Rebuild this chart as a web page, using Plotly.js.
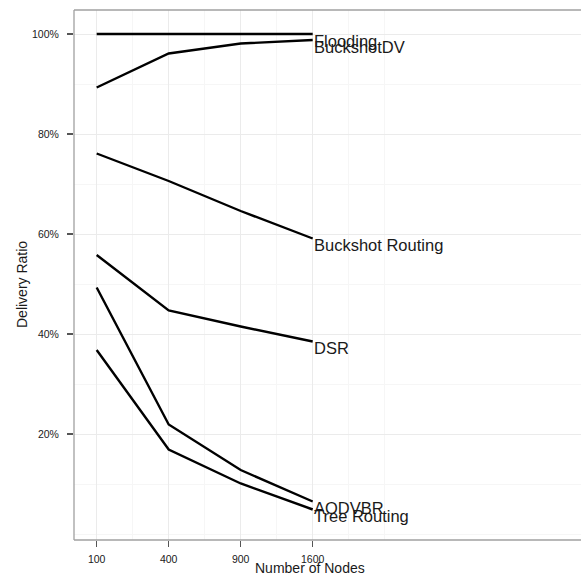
<!DOCTYPE html>
<html>
<head>
<meta charset="utf-8">
<script src="https://cdn.plot.ly/plotly-3.0.1.min.js"></script>
<style>
  html, body { margin: 0; padding: 0; background: #fff; }
  #chart { width: 581px; height: 576px; }
</style>
</head>
<body>
<div id="chart"></div>
<script>
// Delivery ratio (%) by network size for each routing protocol
const nodes = [100, 400, 900, 1600];
const protocols = ["Flooding", "BuckshotDV", "Buckshot Routing", "DSR", "AODVBR", "Tree Routing"];
const flooding = [100, 100, 100, 100];
const buckshotDV = [89.3, 96.1, 98.1, 98.8];
const buckshotRouting = [76.1, 70.6, 64.6, 59.1];
const dsr = [55.8, 44.7, 41.5, 38.5];
const aodvbr = [49.3, 21.9, 12.8, 6.5];
const treeRouting = [36.8, 16.9, 10.1, 4.9];
const yTicks = [20, 40, 60, 80, 100];
const yTickLabels = ["20%", "40%", "60%", "80%", "100%"];

const seriesValues = [flooding, buckshotDV, buckshotRouting, dsr, aodvbr, treeRouting];

// x axis uses a square-root scale
const sx = nodes.map(n => Math.sqrt(n));

const FONT = "Liberation Sans, Arial, Helvetica, sans-serif";

const traces = seriesValues.map((vals, i) => ({
  type: "scatter",
  mode: "lines",
  name: protocols[i],
  x: sx,
  y: vals,
  line: { color: "#000000", width: 2.4 },
  hoverinfo: "skip"
}));

// direct labels at the last point of each line
const last = sx.length - 1;
const labelAnnotations = seriesValues.map((vals, i) => ({
  x: sx[last],
  y: vals[last],
  xref: "x",
  yref: "y",
  text: protocols[i],
  showarrow: false,
  xanchor: "left",
  yanchor: "top",
  borderpad: 0,
  yshift: 3.5,
  font: { family: FONT, size: 16.5, color: "#1a1a1a" }
}));

const step = sx[1] - sx[0];
const xMinor = [sx[0] + step / 2, sx[1] + step / 2, sx[2] + step / 2, sx[3] + step / 2, sx[3] + step];

const layout = {
  width: 581,
  height: 576,
  margin: { l: 74, r: 0, t: 10, b: 36 },
  paper_bgcolor: "#ffffff",
  plot_bgcolor: "#ffffff",
  showlegend: false,
  font: { family: FONT, color: "#1a1a1a" },
  xaxis: {
    range: [6.85, 77.26],
    tickmode: "array",
    tickvals: sx,
    ticktext: nodes.map(String),
    ticks: "outside",
    ticklen: 6,
    tickwidth: 1.3,
    tickcolor: "#555555",
    ticklabelstandoff: 3,
    tickfont: { family: FONT, size: 10.5, color: "#1a1a1a" },
    showgrid: true,
    gridcolor: "#ebebeb",
    gridwidth: 1,
    minor: { tickmode: "array", tickvals: xMinor, showgrid: true, gridcolor: "#f6f6f6", gridwidth: 1, ticks: "" },
    zeroline: false,
    showline: false
  },
  yaxis: {
    range: [-1.2, 104.8],
    tickmode: "array",
    tickvals: yTicks,
    ticktext: yTickLabels,
    ticks: "outside",
    ticklen: 6,
    tickwidth: 1.3,
    tickcolor: "#555555",
    ticklabelstandoff: 6,
    tickfont: { family: FONT, size: 10.5, color: "#1a1a1a" },
    showgrid: true,
    gridcolor: "#ebebeb",
    gridwidth: 1,
    minor: { tickmode: "array", tickvals: [0, 10, 30, 50, 70, 90], showgrid: true, gridcolor: "#f6f6f6", gridwidth: 1, ticks: "" },
    zeroline: false,
    showline: false
  },
  shapes: [
    // panel border: top, left, bottom
    { type: "line", xref: "paper", yref: "paper", x0: 0, x1: 1, y0: 1, y1: 1, line: { color: "#a0a0a0", width: 1.3 } },
    { type: "line", xref: "paper", yref: "paper", x0: 0, x1: 0, y0: 0, y1: 1, line: { color: "#a0a0a0", width: 1.3 } },
    { type: "line", xref: "paper", yref: "paper", x0: 0, x1: 1, y0: 0, y1: 0, line: { color: "#a0a0a0", width: 1.3 } }
  ],
  annotations: labelAnnotations.concat([
    {
      text: "Number of Nodes",
      xref: "paper", yref: "paper",
      x: (310 - 74) / 507, y: (540 - 568) / 530,
      xanchor: "center", yanchor: "middle",
      showarrow: false,
      font: { family: FONT, size: 14, color: "#1a1a1a" }
    },
    {
      text: "Delivery Ratio",
      xref: "paper", yref: "paper",
      x: (22 - 74) / 507, y: (540 - 285) / 530,
      xanchor: "center", yanchor: "middle",
      textangle: -90,
      showarrow: false,
      font: { family: FONT, size: 14, color: "#1a1a1a" }
    }
  ])
};

Plotly.newPlot("chart", traces, layout, { staticPlot: true, displayModeBar: false });
</script>
</body>
</html>
